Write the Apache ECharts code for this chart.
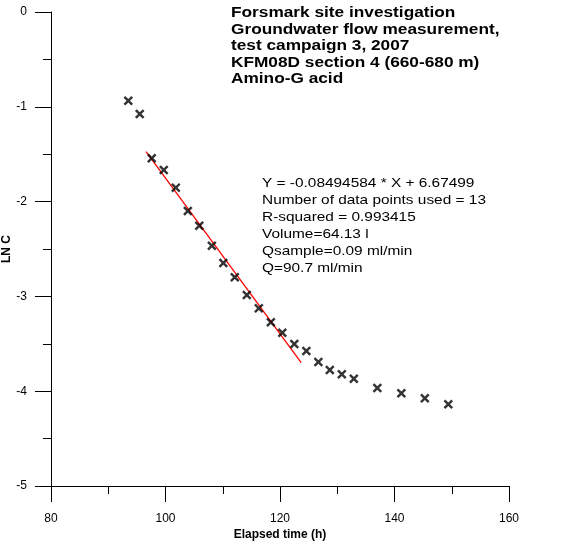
<!DOCTYPE html>
<html>
<head>
<meta charset="utf-8">
<script src="https://cdn.jsdelivr.net/npm/echarts@6/dist/echarts.min.js"></script>
<style>
html,body{margin:0;padding:0;background:#fff;}
#chart{width:572px;height:543px;}
</style>
</head>
<body>
<div id="chart"></div>
<script>
// Data
var elapsedHours = [93.5, 95.5, 97.6, 99.7, 101.8, 103.9, 105.9, 108.1, 110.1, 112.1, 114.2, 116.3, 118.4, 120.4, 122.5, 124.6, 126.7, 128.7, 130.8, 132.9, 137.0, 141.2, 145.3, 149.4];
var lnC = [-0.936, -1.076, -1.543, -1.667, -1.853, -2.099, -2.254, -2.465, -2.648, -2.798, -2.985, -3.126, -3.273, -3.383, -3.502, -3.576, -3.692, -3.776, -3.822, -3.868, -3.966, -4.022, -4.075, -4.138];
var fitX = [96.6, 123.7];
var fitY = [-1.474, -3.699];
var titleLines = ['Forsmark site investigation', 'Groundwater flow measurement,', 'test campaign 3, 2007', 'KFM08D section 4 (660-680 m)', 'Amino-G acid'];
var infoLines = ['Y = -0.08494584 * X + 6.67499', 'Number of data points used = 13', 'R-squared = 0.993415', 'Volume=64.13 l', 'Qsample=0.09 ml/min', 'Q=90.7 ml/min'];

var FONT = 'Arial, "Liberation Sans", sans-serif';
var pts = elapsedHours.map(function (x, i) { return [x, lnC[i]]; });
var fit = fitX.map(function (x, i) { return [x, fitY[i]]; });

var chart = echarts.init(document.getElementById('chart'), null, {renderer: 'canvas'});
chart.setOption({
  animation: false,
  backgroundColor: '#fff',
  grid: {left: 51, top: 12, right: 63, bottom: 57, containLabel: false, outerBoundsMode: 'none'},
  xAxis: {
    type: 'value', min: 80, max: 160, interval: 20,
    name: 'Elapsed time (h)', nameLocation: 'middle', nameGap: 43, nameMoveOverlap: false,
    nameTextStyle: {fontFamily: FONT, fontWeight: 'bold', fontSize: 12, color: '#000'},
    axisLine: {show: true, onZero: false, lineStyle: {color: '#000', width: 1}},
    axisTick: {show: true, inside: false, length: 16, lineStyle: {color: '#000', width: 1}},
    minorTick: {show: true, splitNumber: 2, length: 8, lineStyle: {color: '#000', width: 1}},
    axisLabel: {fontFamily: FONT, fontSize: 12, color: '#000', margin: 27},
    splitLine: {show: false}
  },
  yAxis: {
    type: 'value', min: -5, max: 0, interval: 1,
    name: 'LN C', nameLocation: 'middle', nameGap: 38, nameRotate: 90, nameMoveOverlap: false,
    nameTextStyle: {fontFamily: FONT, fontWeight: 'bold', fontSize: 12, color: '#000'},
    axisLine: {show: true, onZero: false, lineStyle: {color: '#000', width: 1}},
    axisTick: {show: true, inside: false, length: 16, lineStyle: {color: '#000', width: 1}},
    minorTick: {show: true, splitNumber: 2, length: 8, lineStyle: {color: '#000', width: 1}},
    axisLabel: {fontFamily: FONT, fontSize: 12, color: '#000', margin: 24},
    splitLine: {show: false}
  },
  series: [
    {
      type: 'line', data: fit, showSymbol: false, symbol: 'none',
      lineStyle: {color: '#ff0000', width: 1.3}, z: 2
    },
    {
      type: 'scatter', data: pts,
      symbol: 'path://M0,1.8 L1.8,0 L5,3.2 L8.2,0 L10,1.8 L6.8,5 L10,8.2 L8.2,10 L5,6.8 L1.8,10 L0,8.2 L3.2,5 Z',
      symbolSize: 9.5,
      itemStyle: {color: '#000'}, z: 3
    }
  ],
  graphic: [
    {
      type: 'text', x: 231, y: 5, scaleX: 1.19,
      style: {text: titleLines.join('\n'), font: 'bold 14.5px ' + FONT, fill: '#000', lineHeight: 16.5, align: 'left', verticalAlign: 'top'}
    },
    {
      type: 'text', x: 262, y: 175, scaleX: 1.185,
      style: {text: infoLines.join('\n'), font: '13px ' + FONT, fill: '#000', lineHeight: 17, align: 'left', verticalAlign: 'top'}
    }
  ]
});
</script>
</body>
</html>
